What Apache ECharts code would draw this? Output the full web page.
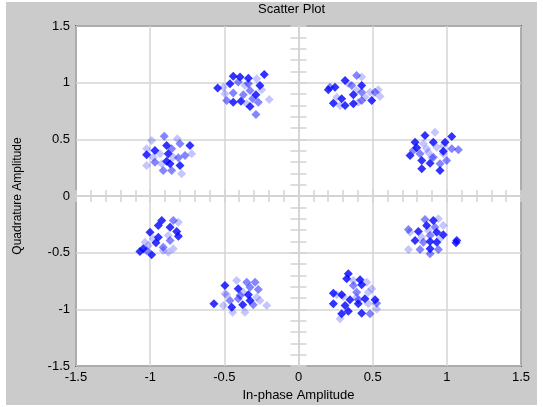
<!DOCTYPE html>
<html><head><meta charset="utf-8">
<script src="https://cdn.jsdelivr.net/npm/echarts@6/dist/echarts.min.js"></script>
<style>html,body{margin:0;padding:0;background:#fff}#c{width:543px;height:407px}</style>
</head><body><div id="c"></div>
<script>
const xTicks = [-1.5, -1, -0.5, 0, 0.5, 1, 1.5];
const yTicks = [-1.5, -1, -0.5, 0, 0.5, 1, 1.5];
const titleText = 'Scatter Plot';
const xName = 'In-phase Amplitude';
const yName = 'Quadrature Amplitude';

const darkPts = [
 [-0.440,1.057],[-0.394,1.049],[-0.338,1.040],[-0.462,0.990],[-0.231,1.072],[-0.545,0.952],[-0.260,0.975],[-0.287,0.893],[-0.440,0.828],[-0.388,0.837],[-0.327,0.790],
 [0.314,1.019],[0.201,0.937],[0.246,0.960],[0.426,0.975],[0.370,0.893],[0.291,0.858],[0.235,0.819],[0.314,0.799],[0.370,0.814],[0.494,0.843],
 [-0.889,0.446],[-0.732,0.446],[-0.968,0.402],[-1.024,0.364],[-0.878,0.372],[-0.889,0.307],[-0.866,0.284],[-0.799,0.269],
 [0.853,0.534],[1.033,0.525],[0.786,0.475],[0.909,0.475],[0.988,0.475],[0.797,0.425],[0.976,0.395],[0.752,0.357],[0.831,0.313],[0.887,0.290],[0.831,0.240],[0.954,0.225],
 [-0.922,-0.216],[-0.945,-0.260],[-0.866,-0.275],[-1.001,-0.319],[-0.821,-0.313],[-0.945,-0.363],[-0.810,-0.355],[-0.961,-0.413],[-1.047,-0.466],[-1.069,-0.490],[-0.990,-0.519],
 [0.909,-0.216],[0.864,-0.260],[0.808,-0.313],[0.932,-0.319],[0.976,-0.342],[0.786,-0.393],[0.887,-0.402],[0.932,-0.408],[1.067,-0.393],[1.062,-0.413],[0.887,-0.466],
 [-0.496,-0.790],[-0.406,-0.819],[-0.338,-0.872],[-0.327,-0.922],[-0.570,-0.951],[-0.450,-0.981],[-0.376,-0.960],
 [0.336,-0.687],[0.325,-0.731],[0.415,-0.740],[0.426,-0.784],[0.235,-0.858],[0.291,-0.872],[0.347,-0.916],[0.448,-0.907],[0.516,-0.916],[0.235,-0.951],[0.314,-0.966],[0.403,-0.951],[0.336,-1.017],[0.291,-1.040],[0.426,-1.034]
];
const midPts = [
 [-0.406,1.005],[-0.338,0.990],[-0.440,0.908],[-0.372,0.893],[-0.327,0.931],[-0.484,0.843],[-0.309,0.858],[-0.271,0.828],[-0.287,0.719],
 [0.392,1.064],[0.359,0.975],[0.426,0.916],[0.426,0.843],[0.516,0.916],[0.212,0.960],
 [-0.905,0.528],[-0.799,0.461],[-0.855,0.417],[-0.765,0.357],[-0.968,0.298],[-0.810,0.337],[-0.912,0.225],[-0.855,0.225],
 [1.033,0.417],[1.078,0.408],[0.819,0.372],[0.909,0.342],[0.999,0.313],[0.954,0.284],[0.774,0.402],
 [-0.844,-0.216],[-0.866,-0.393],[-0.912,-0.452],[-1.024,-0.481],
 [0.853,-0.207],[0.920,-0.275],[0.741,-0.296],[0.887,-0.349],[0.842,-0.408],[0.819,-0.472],[0.943,-0.472],[0.887,-0.510],
 [-0.349,-0.761],[-0.293,-0.761],[-0.327,-0.805],[-0.271,-0.825],[-0.394,-0.878],[-0.462,-0.922],[-0.406,-0.907],[-0.305,-0.960],
 [0.370,-0.790],[0.392,-0.849],[0.403,-0.916],[0.527,-0.946],[0.482,-1.040]
];
const lightPts = [
 [-0.282,1.034],[-0.248,0.937],[-0.496,0.902],[-0.197,0.852],[-0.349,0.814],[-0.507,0.960],[-0.361,0.975],
 [0.426,1.049],[0.482,0.916],[0.538,0.937],[0.550,0.878],[0.448,0.872],[0.392,0.931],[0.258,0.872],[0.280,0.799],[0.403,0.828],[0.336,0.990],
 [-0.817,0.505],[-0.990,0.490],[-1.024,0.417],[-0.720,0.372],[-0.979,0.342],[-1.024,0.269],[-0.922,0.284],[-0.788,0.196],[-0.934,0.372],[-0.844,0.342],
 [0.920,0.563],[0.842,0.461],[0.864,0.417],[0.932,0.431],[0.875,0.387],[0.976,0.372],[0.898,0.342],[0.976,0.446],
 [-0.810,-0.231],[-0.878,-0.349],[-1.035,-0.408],[-1.013,-0.437],[-0.878,-0.496],[-0.844,-0.466],[-0.979,-0.378],[-0.912,-0.481],
 [0.943,-0.201],[0.976,-0.260],[0.875,-0.304],[0.752,-0.319],[0.741,-0.472],[0.831,-0.363],[0.954,-0.378],
 [-0.417,-0.746],[-0.484,-0.872],[-0.282,-0.893],[-0.260,-0.922],[-0.214,-0.966],[-0.444,-1.026],[-0.361,-1.026],[-0.507,-0.966],[-0.372,-0.849],[-0.496,-0.863],
 [0.370,-0.746],[0.460,-0.761],[0.471,-0.849],[0.494,-0.819],[0.302,-0.887],[0.471,-0.951],[0.280,-1.084],[0.527,-0.996],[0.392,-0.893],[0.258,-0.872]
];

const GRID_L = 76, GRID_R = 22, GRID_T = 26, GRID_B = 41;
const FONT = 'Liberation Sans, Arial, sans-serif';
const lineGrey = '#d4d4d4';

const chart = echarts.init(document.getElementById('c'), null, {renderer: 'canvas'});

function crossX(inside) {
  return {
    type: 'value', min: xTicks[0], max: xTicks[xTicks.length - 1], interval: 0.1,
    position: 'bottom',
    axisLine: {show: true, onZero: true, onZeroAxisIndex: 0, lineStyle: {color: lineGrey, width: 1.5}},
    axisTick: {show: true, inside: inside, length: 6, lineStyle: {color: lineGrey, width: 1.5}},
    axisLabel: {show: false}, splitLine: {show: false}
  };
}
function crossY(inside) {
  return {
    type: 'value', min: yTicks[0], max: yTicks[yTicks.length - 1], interval: 0.1,
    position: 'left',
    axisLine: {show: true, onZero: true, onZeroAxisIndex: 0, lineStyle: {color: lineGrey, width: 1.5}},
    axisTick: {show: true, inside: inside, length: 8, lineStyle: {color: lineGrey, width: 1.5}},
    axisLabel: {show: false}, splitLine: {show: false}
  };
}

const option = {
  animation: false,
  backgroundColor: '#ffffff',
  graphic: [
    {type: 'rect', z: -100, shape: {x: 6, y: 2, width: 531, height: 403}, style: {fill: '#cbcbcb'}, silent: true},
    {type: 'text', z: 10, left: 298 - 40, top: 3, style: {text: titleText, font: '13px ' + FONT, fill: '#000'}}
  ],
  grid: {left: GRID_L, right: GRID_R, top: GRID_T, bottom: GRID_B, show: true,
         backgroundColor: '#ffffff', borderColor: '#000000', borderWidth: 1.5, containLabel: false},
  xAxis: [
    {
      type: 'value', min: xTicks[0], max: xTicks[xTicks.length - 1], interval: 0.5,
      position: 'bottom',
      axisLine: {show: false, onZero: false},
      axisTick: {show: false},
      axisLabel: {color: '#000', fontFamily: FONT, fontSize: 13, margin: 5},
      splitLine: {show: true, lineStyle: {color: lineGrey, width: 1.5}},
      name: xName, nameLocation: 'middle', nameGap: 20,
      nameTextStyle: {color: '#000', fontFamily: FONT, fontSize: 13}
    },
    crossX(false), crossX(true)
  ],
  yAxis: [
    {
      type: 'value', min: yTicks[0], max: yTicks[yTicks.length - 1], interval: 0.5,
      position: 'left',
      axisLine: {show: false, onZero: false},
      axisTick: {show: false},
      axisLabel: {color: '#000', fontFamily: FONT, fontSize: 13, margin: 6},
      splitLine: {show: true, lineStyle: {color: lineGrey, width: 1.5}},
      name: yName, nameLocation: 'middle', nameGap: 52,
      nameTextStyle: {color: '#000', fontFamily: FONT, fontSize: 12}
    },
    crossY(false), crossY(true)
  ],
  series: [
    {type: 'scatter', xAxisIndex: 0, yAxisIndex: 0, symbol: 'diamond', symbolSize: 9, z: 5,
     itemStyle: {color: 'rgba(0,0,255,0.28)'}, data: lightPts},
    {type: 'scatter', xAxisIndex: 0, yAxisIndex: 0, symbol: 'diamond', symbolSize: 9, z: 6,
     itemStyle: {color: 'rgba(0,0,255,0.6)'}, data: midPts},
    {type: 'scatter', xAxisIndex: 0, yAxisIndex: 0, symbol: 'diamond', symbolSize: 9, z: 7,
     itemStyle: {color: 'rgba(0,0,255,1)'}, data: darkPts}
  ]
};
chart.setOption(option);
</script>
</body></html>
